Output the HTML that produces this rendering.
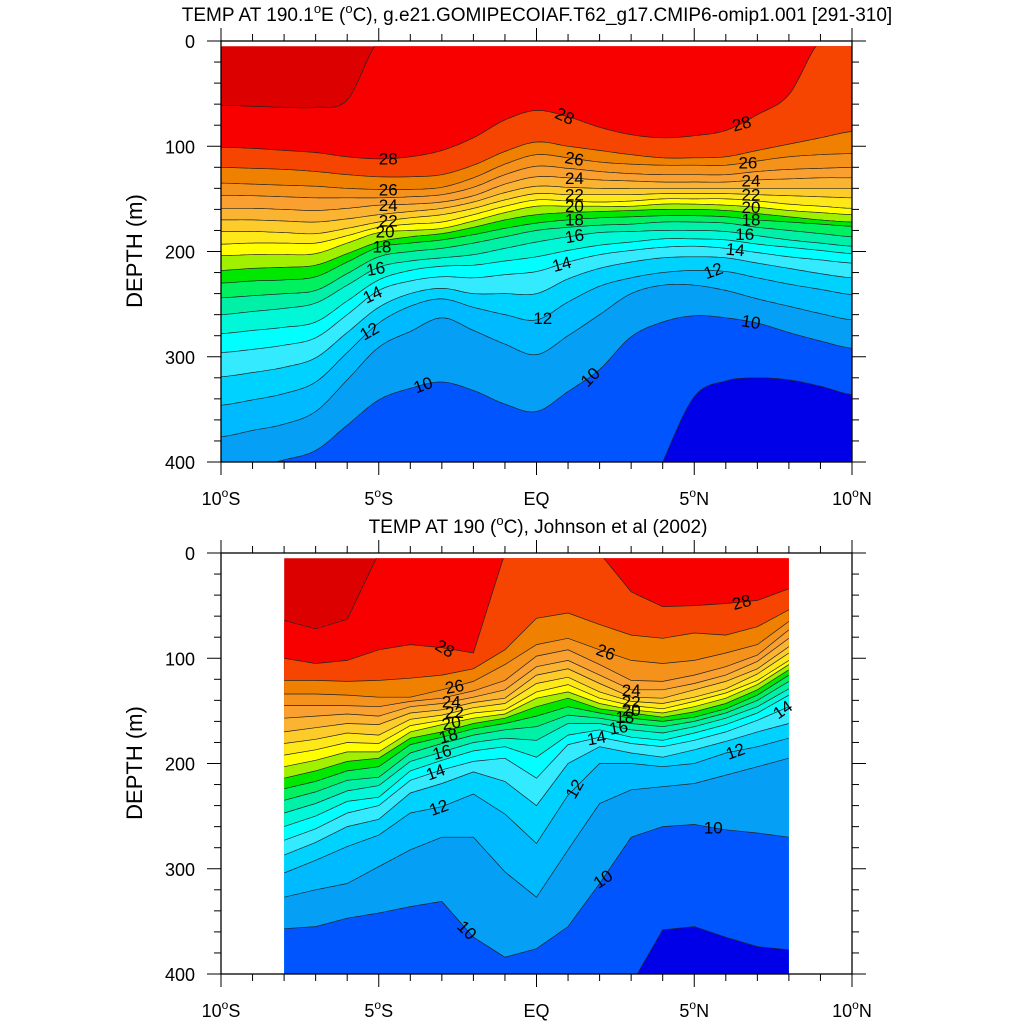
<!DOCTYPE html>
<html><head><meta charset="utf-8"><title>TEMP sections</title>
<style>html,body{margin:0;padding:0;background:#fff;width:1024px;height:1024px;overflow:hidden}svg{display:block;font-family:"Liberation Sans",sans-serif}</style>
</head><body>
<svg id="chart" width="1024" height="1024" viewBox="0 0 1024 1024" xmlns="http://www.w3.org/2000/svg">
<rect width="1024" height="1024" fill="#fff"/>
<text x="537" y="21" font-size="19" text-anchor="middle">TEMP AT 190.1<tspan font-size="13" dy="-8">o</tspan><tspan dy="8">E (</tspan><tspan font-size="13" dy="-8">o</tspan><tspan dy="8">C), g.e21.GOMIPECOIAF.T62_g17.CMIP6-omip1.001 [291-310]</tspan></text>
<text x="538" y="533" font-size="19" text-anchor="middle">TEMP AT 190 (<tspan font-size="13" dy="-8">o</tspan><tspan dy="8">C), Johnson et al (2002)</tspan></text>
<text x="0" y="0" font-size="22" text-anchor="middle" transform="translate(142,251) rotate(-90)">DEPTH (m)</text>
<text x="0" y="0" font-size="22" text-anchor="middle" transform="translate(142,763) rotate(-90)">DEPTH (m)</text>
<g id="topPanel"></g>
<g id="botPanel"></g>
</svg>
<script>
// ---------- data ----------
const isoLevels = [29,28,27,26,25,24,23,22,21,20,19,18,17,16,15,14,13,12,11,10,9];
const bandColors = ["#dc0000","#f80000","#f54500","#f08000","#f5921c","#f9a030","#fbb432","#fdcc2a","#ffe81a","#ffff00","#a0f000","#00e800","#00f060","#00f0a8","#00f8d8","#00ffff","#33eaff","#00d2ff","#00baff","#05a0f5","#0055ff","#0000e8"];
const depthTicks = [0,100,200,300,400];
const latTicks = [-10,-5,0,5,10];
const latTickLabels = ["10","5","EQ","5","10"];
const latTickHemis = ["S","S","","N","N"];

// Top panel (model), isotherm depths (m) at latitudes -10..10
const topLats = [-10,-9,-8,-7,-6,-5,-4,-3,-2,-1,0,1,2,3,4,5,6,7,8,9,10];
const top29 = [61,62,63,63,56,0,0,0,0,0,0,0,0,0,0,0,0,0,0,0,0];
const top28 = [101,102,104,106,110,112,110,104,92,75,66,72,82,89,92,90,85,70,51,0,0];
const top27 = [120,121,122,124,127,129,129,127,118,105,96,100,104,108,111,111,110,104,98,92,86];
const top26 = [135,136,137,138,140,141,141,139,130,117,108,111,115,117,118,118,118,114,110,108,107];
const top25 = [147,147,148,149,149,149,148,146,139,127,119,121,124,126,127,127,127,124,122,121,120];
const top24 = [159,159,160,161,159,156,155,153,147,136,129,130,132,133,134,134,134,132,131,130,130];
const top23 = [170,170,171,172,169,165,162,159,153,144,138,139,140,140,140,140,140,140,140,140,140];
const top22 = [181,181,182,183,178,172,168,165,159,151,145,146,146,146,145,145,145,146,147,148,149];
const top21 = [193,192,192,192,185,177,174,172,165,157,151,152,153,152,150,150,150,152,155,157,159];
const top20 = [204,203,203,202,192,182,180,178,171,163,157,157,157,157,155,155,156,158,161,163,165];
const top19 = [218,216,215,213,202,191,186,183,177,170,165,163,162,161,160,160,161,164,167,170,172];
const top18 = [230,228,227,224,210,196,192,189,184,178,173,170,168,167,166,166,167,170,172,174,176];
const top17 = [244,242,240,237,221,205,200,197,192,186,180,177,175,174,172,172,173,177,180,183,186];
const top16 = [260,257,254,249,232,215,209,206,203,197,191,186,182,181,180,180,181,185,189,192,195];
const top15 = [278,275,272,267,247,227,218,214,213,209,205,199,194,191,188,188,189,193,196,199,202];
const top14 = [296,293,289,282,260,237,228,224,225,222,219,210,203,199,196,195,197,201,205,208,211];
const top13 = [319,315,310,301,277,253,240,235,240,240,240,226,216,210,206,205,206,211,216,221,225];
const top12 = [346,341,335,324,296,268,252,245,253,260,265,248,233,225,220,218,219,225,231,236,241];
const top11 = [376,370,364,352,322,291,276,263,275,288,298,280,260,240,232,232,237,245,252,259,265];
const top10 = [410,405,398,389,365,341,330,324,332,345,352,333,312,281,267,261,263,268,277,285,292];
const top9  = [550,550,550,550,550,550,550,550,550,550,550,550,550,470,400,338,323,320,322,328,336];
const topRows = [top29,top28,top27,top26,top25,top24,top23,top22,top21,top20,top19,top18,top17,top16,top15,top14,top13,top12,top11,top10,top9];
const topLabelT   = [28,26,24,22,20,18,16,14,12,10, 28,26,24,22,20,18,16,14,12,10, 28,26,24,22,20,18,16,14,12,10];
const topLabelLat = [-4.7,-4.7,-4.7,-4.7,-4.8,-4.9,-5.1,-5.2,-5.3,-3.6, 0.9,1.2,1.2,1.2,1.2,1.2,1.2,0.8,0.2,1.7, 6.5,6.7,6.8,6.8,6.8,6.8,6.6,6.3,5.6,6.8];
const topLabelRot = [0,0,0,0,0,0,-10,-25,-30,-20, 25,10,0,0,0,0,-10,-15,0,-45, -15,0,0,0,0,0,0,5,-20,10];

// Bottom panel (observations), latitudes -8..8
const botLats = [-8,-7,-6,-5,-4,-3,-2,-1,0,1,2,3,4,5,6,7,8];
const bot29 = [64,72,63,0,0,0,0,0,0,0,0,0,0,0,0,0,0];
const bot28 = [100,105,102,92,87,90,95,0,0,0,0,37,51,50,48,45,34];
const bot27 = [121,121,122,121,119,116,110,92,62,57,68,78,81,76,78,70,54];
const bot26 = [134,134,135,137,137,130,122,106,87,81,92,102,105,102,95,87,65];
const bot25 = [145,145,145,146,141,138,131,121,98,92,106,121,122,116,108,97,73];
const bot24 = [157,155,153,155,146,143,137,130,108,102,116,130,130,124,116,103,81];
const bot23 = [170,166,162,163,152,149,142,138,116,110,124,137,138,130,122,110,89];
const bot22 = [181,177,171,173,158,154,147,143,124,118,132,141,143,137,129,115,95];
const bot21 = [192,187,180,181,164,159,152,149,132,125,138,145,148,141,133,121,102];
const bot20 = [203,197,189,189,170,163,157,153,138,132,143,149,152,146,138,125,106];
const bot19 = [214,207,198,195,176,170,162,157,146,138,148,152,156,151,143,130,111];
const bot18 = [224,217,207,203,182,175,167,162,155,146,152,157,160,156,148,135,116];
const bot17 = [235,227,216,213,190,181,173,168,165,154,157,162,165,160,152,140,122];
const bot16 = [247,238,226,221,198,189,180,176,178,162,162,168,171,165,157,146,129];
const bot15 = [260,250,236,232,207,197,188,184,194,173,168,175,178,171,163,152,135];
const bot14 = [273,262,247,240,216,206,198,195,214,182,175,181,184,178,170,159,146];
const bot13 = [287,275,260,253,228,219,208,217,240,200,184,190,194,187,179,170,162];
const bot12 = [304,292,279,268,247,241,229,248,276,230,200,200,203,200,190,184,176];
const bot11 = [327,320,314,298,282,270,270,303,327,282,238,225,222,219,211,203,195];
const bot10 = [357,355,347,342,336,331,365,384,376,355,314,270,260,258,263,266,270];
const bot9  = [500,500,500,500,500,500,500,500,500,500,500,440,358,355,365,374,377];
const botRows = [bot29,bot28,bot27,bot26,bot25,bot24,bot23,bot22,bot21,bot20,bot19,bot18,bot17,bot16,bot15,bot14,bot13,bot12,bot11,bot10,bot9];
const botLabelT   = [28,26,24,22,20,18,16,14,12,10, 26,24,22,20,18,16,14,12,10, 28,14,12,10];
const botLabelLat = [-2.9,-2.6,-2.7,-2.6,-2.7,-2.8,-3.0,-3.2,-3.1,-2.2, 2.2,3.0,3.0,3.0,2.8,2.6,1.9,1.2,2.1, 6.5,7.8,6.3,5.6];
const botLabelRot = [30,-10,0,0,-10,-15,-15,-20,-20,45, 20,0,0,0,0,-10,-10,-60,-35, -15,-35,-20,0];

// ---------- drawing ----------
const NS = "http://www.w3.org/2000/svg";
const PX_PER_DEG = 631/20, PX_PER_M = 421/400, MAXD = 410;
function xOf(lat){ return 221 + (lat+10)*PX_PER_DEG; }
function mk(tag, attrs, parent){ const e=document.createElementNS(NS,tag); for(const k in attrs) e.setAttribute(k,attrs[k]); parent.appendChild(e); return e; }

function sample(lats, vals, smooth){
  const out=[]; const n=lats.length;
  for(let i=0;i<n-1;i++){
    const steps = smooth?10:1;
    for(let s=0;s<steps;s++){
      const t=s/steps;
      let v;
      if(smooth){
        const p0=vals[Math.max(0,i-1)], p1=vals[i], p2=vals[i+1], p3=vals[Math.min(n-1,i+2)];
        v = 0.5*((2*p1)+(-p0+p2)*t+(2*p0-5*p1+4*p2-p3)*t*t+(-p0+3*p1-3*p2+p3)*t*t*t);
      } else v = vals[i]+(vals[i+1]-vals[i])*t;
      out.push([lats[i]+(lats[i+1]-lats[i])*t, Math.max(0,Math.min(MAXD,v))]);
    }
  }
  out.push([lats[n-1], Math.max(0,Math.min(MAXD,vals[n-1]))]);
  return out;
}
function valueAt(pts, lat){
  for(let i=0;i<pts.length-1;i++){
    if(lat>=pts[i][0] && lat<=pts[i+1][0]){
      const f=(lat-pts[i][0])/(pts[i+1][0]-pts[i][0]);
      return pts[i][1]+(pts[i+1][1]-pts[i][1])*f;
    }
  }
  return pts[pts.length-1][1];
}

function drawPanel(g, top, lats, rows, smooth, labT, labLat, labRot, id){
  const yOf = d => top + d*PX_PER_M;
  const x0=xOf(lats[0]), x1=xOf(lats[lats.length-1]);
  const defs=mk("defs",{},g);
  const cp=mk("clipPath",{id:"clip"+id},defs);
  mk("rect",{x:x0,y:yOf(5),width:x1-x0,height:yOf(400)-yOf(5)},cp);
  const data=mk("g",{"clip-path":"url(#clip"+id+")"},g);
  
  
  const bg=mk("rect",{x:x0,y:yOf(0),width:x1-x0,height:yOf(400)-yOf(0),fill:bandColors[0]},data);
  
  
  const curves=[];
  rows.forEach((row,k)=>{
    const pts=sample(lats,row,smooth); curves.push(pts);
    let d="M"+pts.map(p=>xOf(p[0]).toFixed(1)+" "+yOf(p[1]).toFixed(1)).join(" L");
    const fill=mk("path",{d:d+" L"+x1+" "+yOf(MAXD)+" L"+x0+" "+yOf(MAXD)+" Z",fill:bandColors[k+1]},data);
    
    
  });
  curves.forEach((pts,k)=>{
    const d="M"+pts.map(p=>xOf(p[0]).toFixed(1)+" "+yOf(p[1]).toFixed(1)).join(" L");
    const ln=mk("path",{d:d,fill:"none",stroke:"#222","stroke-width":0.7},data);
    
    
  });
  labT.forEach((T,i)=>{
    const k=isoLevels.indexOf(T);
    const dep=valueAt(curves[k],labLat[i]);
    const x=xOf(labLat[i]), y=yOf(dep);
    const t=mk("text",{x:0,y:6,"font-size":17,"text-anchor":"middle",transform:"translate("+x.toFixed(1)+","+y.toFixed(1)+") rotate("+labRot[i]+")"},g);
    t.textContent=String(T);
    
    
  });
  const fr=mk("rect",{x:221,y:top,width:631,height:421,fill:"none",stroke:"#000","stroke-width":1.3},g);
  
  
  for(let d=0; d<=400; d+=20){
    const major = d%100===0, L = major?14:7, y=yOf(d);
    mk("line",{x1:221-L,y1:y,x2:221,y2:y,stroke:"#000","stroke-width":1},g);
    mk("line",{x1:852,y1:y,x2:852+L,y2:y,stroke:"#000","stroke-width":1},g);
  }
  depthTicks.forEach(d=>{
    const t=mk("text",{x:195,y:yOf(d)+7,"font-size":18,"text-anchor":"end"},g);
    t.textContent=String(d);
    
    
  });
  for(let lat=-10; lat<=10; lat++){
    const major = lat%5===0, L = major?13:7, x=xOf(lat);
    mk("line",{x1:x,y1:top+421,x2:x,y2:top+421+L,stroke:"#000","stroke-width":1},g);
    mk("line",{x1:x,y1:top-L,x2:x,y2:top,stroke:"#000","stroke-width":1},g);
  }
  latTicks.forEach((lat,i)=>{
    const t=mk("text",{x:xOf(lat),y:top+464,"font-size":18,"text-anchor":"middle"},g);
    
    
    if(latTickHemis[i]===""){ t.textContent=latTickLabels[i]; }
    else{
      t.appendChild(document.createTextNode(latTickLabels[i]));
      const s=document.createElementNS(NS,"tspan"); s.setAttribute("font-size","12"); s.setAttribute("dy","-8"); s.textContent="o"; t.appendChild(s);
      const h=document.createElementNS(NS,"tspan"); h.setAttribute("dy","8"); h.textContent=latTickHemis[i]; t.appendChild(h);
    }
  });
}
drawPanel(document.getElementById("topPanel"), 41, topLats, topRows, true, topLabelT, topLabelLat, topLabelRot, "T");
drawPanel(document.getElementById("botPanel"), 553, botLats, botRows, false, botLabelT, botLabelLat, botLabelRot, "B");
</script>
</body></html>
